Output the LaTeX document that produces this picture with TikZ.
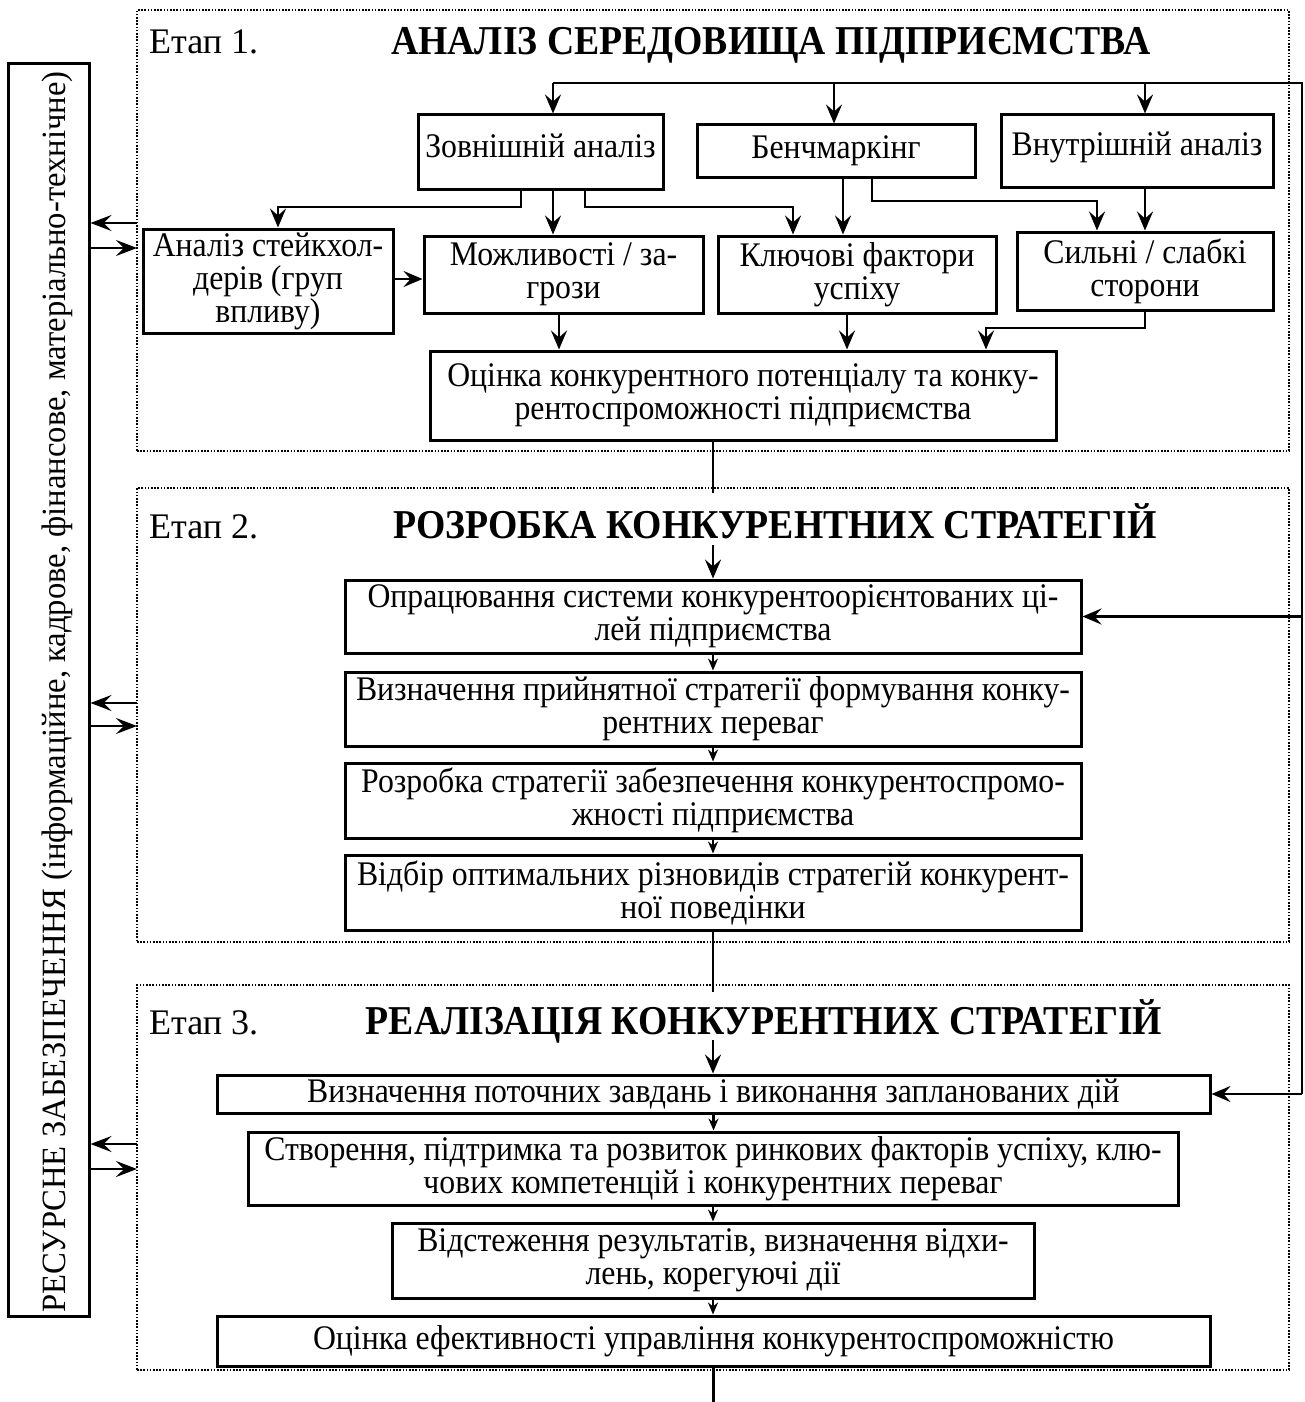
\documentclass[tikz,border=0pt]{standalone}
\usepackage{fontspec}
\usepackage{graphicx}
\setmainfont{Liberation Serif}
\newfontfamily\bxfont[FakeStretch=0.92]{Liberation Serif}
\usetikzlibrary{arrows.meta,calc}
\newcommand\mybox[7][]{\node[box,#1,minimum width={(#5-#3)*1pt},minimum height={(#6-#4)*1pt}] (#2) at ({(#3+#5)/2},{(#4+#6)/2}) {#7};}
\tikzset{
 box/.style={draw, line width=3pt, align=center, inner sep=2pt, font=\bxfont\fontsize{34.5}{33}\selectfont},
 frame/.style={draw, line width=1.6pt, dash pattern=on 1.6pt off 1.6pt},
 conn/.style={line width=2.8pt},
 arr/.style={conn, -{Stealth[length=19pt,width=16pt,inset=7pt]}},
 sarr/.style={conn, -{Stealth[length=12pt,width=10pt,inset=4pt]}},
 tarr/.style={line width=1.8pt, -{Stealth[length=21pt,width=16pt,inset=8pt]}},
 etap/.style={font=\fontsize{36}{40}\selectfont, inner sep=0pt, anchor=base west},
 ttl/.style={font=\bxfont\bfseries\fontsize{41}{44}\selectfont, inner sep=0pt, anchor=base},
}
\begin{document}
\begin{tikzpicture}[x=1pt,y=-1pt]
\useasboundingbox (0,0) rectangle (1305,1402);
% frames
\mybox[frame]{f1}{137}{10}{1289}{451}{}
\mybox[frame]{f2}{137}{488}{1289}{942}{}
\mybox[frame]{f3}{137}{985}{1289}{1370}{}
% resource box
\node[draw, line width=3pt, rotate=90, minimum width=1252pt, minimum height=81pt, inner sep=0pt] (res) at (48.5,690) {};
\node[rotate=90, inner sep=0pt, font=\fontsize{34}{38}\selectfont] (restext) at (57,692) {\resizebox{1241pt}{\height}{РЕСУРСНЕ ЗАБЕЗПЕЧЕННЯ (інформаційне, кадрове, фінансове, матеріально-технічне)}};
% titles
\node[etap] (e1) at (149,54) {Етап 1.};
\node[ttl] (t1) at (771,55) {АНАЛІЗ СЕРЕДОВИЩА ПІДПРИЄМСТВА};
\node[etap] (e2) at (149,538) {Етап 2.};
\node[ttl] (t2) at (775,538) {РОЗРОБКА КОНКУРЕНТНИХ СТРАТЕГІЙ};
\node[etap] (e3) at (149,1034) {Етап 3.};
\node[ttl] (t3) at (764,1034) {РЕАЛІЗАЦІЯ КОНКУРЕНТНИХ СТРАТЕГІЙ};
% stage 1 boxes
\mybox{zov}{418}{115}{663}{189}{\raisebox{6pt}[\height][\depth]{Зовнішній аналіз}}
\mybox{ben}{697}{125}{975}{177}{Бенчмаркінг}
\mybox{vnu}{1001}{115}{1273}{187}{\raisebox{4pt}[\height][\depth]{Внутрішній аналіз}}
\mybox{ana}{143}{229}{393}{333}{Аналіз стейкхол-\\дерів (груп\\впливу)}
\mybox{mozh}{424}{236}{703}{313}{Можливості / за-\\грози}
\mybox{klyuch}{718}{236}{996}{313}{Ключові фактори\\успіху}
\mybox{syl}{1017}{232}{1273}{310}{Сильні / слабкі\\сторони}
\mybox{ocin}{430}{351}{1056}{440}{Оцінка конкурентного потенціалу та конку-\\рентоспроможності підприємства}
% stage 2 boxes
\mybox{opr}{345}{580}{1081}{653}{Опрацювання системи конкурентоорієнтованих ці-\\лей підприємства}
\mybox{vyz}{345}{672}{1081}{746}{Визначення прийнятної стратегії формування конку-\\рентних переваг}
\mybox{rozr}{345}{763}{1081}{838}{Розробка стратегії забезпечення конкурентоспромо-\\жності підприємства}
\mybox{vidb}{345}{855}{1081}{930}{Відбір оптимальних різновидів стратегій конкурент-\\ної поведінки}
% stage 3 boxes
\mybox{potoch}{217}{1075}{1210}{1113}{Визначення поточних завдань і виконання запланованих дій}
\mybox{stv}{248}{1132}{1178}{1205}{Створення, підтримка та розвиток ринкових факторів успіху, клю-\\чових компетенцій і конкурентних переваг}
\mybox{vidst}{392}{1223}{1034}{1298}{Відстеження результатів, визначення відхи-\\лень, корегуючі дії}
\mybox{ocef}{217}{1316}{1210}{1366}{Оцінка ефективності управління конкурентоспроможністю}
% coordinates
\coordinate (tr) at (1302,83);
\coordinate (tl) at (553,83);
\coordinate (t2) at (834,83);
\coordinate (t3) at (1145,83);
\coordinate (mr) at (1302,616.5);
\coordinate (br) at (1302,1094);
\coordinate (b1) at (278,207);
\coordinate (b2) at (793,207);
\coordinate (b3) at (1097,201);
\coordinate (b4) at (986,328);
\coordinate (s2in) at (713,493);
\coordinate (s2a) at (713,545);
\coordinate (s3in) at (713,992);
\coordinate (s3a) at (713,1040);
\coordinate (bot) at (713.5,1402);
% feedback line
\draw[conn] (br) -- (tr) -- (tl);
\draw[arr] (tl) -- (tl |- zov.north);
\draw[arr] (t2) -- (t2 |- ben.north);
\draw[arr] (t3) -- (t3 |- vnu.north);
\draw[arr] (mr) -- (opr.east);
\draw[arr] (br) -- (potoch.east);
% stage 1 connectors
\draw[arr] ([xshift=-19.5pt]zov.south) |- (b1) -- (b1 |- ana.north);
\draw[arr] ([xshift=12.5pt]zov.south) -- ([xshift=12.5pt]zov.south |- mozh.north);
\draw[arr] ([xshift=44.5pt]zov.south) |- (b2) -- (b2 |- klyuch.north);
\draw[arr] ([xshift=7pt]ben.south) -- ([xshift=7pt]ben.south |- klyuch.north);
\draw[arr] ([xshift=36pt]ben.south) |- (b3) -- (b3 |- syl.north);
\draw[arr] ([xshift=8pt]vnu.south) -- ([xshift=8pt]vnu.south |- syl.north);
\draw[arr] ([yshift=2pt]ana.east) -- ([yshift=2pt]ana.east -| mozh.west);
\draw[arr] ([xshift=-4.5pt]mozh.south) -- ([xshift=-4.5pt]mozh.south |- ocin.north);
\draw[arr] ([xshift=-10pt]klyuch.south) -- ([xshift=-10pt]klyuch.south |- ocin.north);
\draw[arr] (syl.south) |- (b4) -- (b4 |- ocin.north);
\draw[conn] (s2in |- ocin.south) -- (s2in);
% stage 2 connectors
\draw[arr] (s2a) -- (opr.north);
\draw[sarr] (opr.south) -- (vyz.north);
\draw[sarr] (vyz.south) -- (rozr.north);
\draw[sarr] (rozr.south) -- (vidb.north);
\draw[conn] (vidb.south) -- (s3in);
% stage 3 connectors
\draw[arr] (s3a) -- (s3a |- potoch.north);
\draw[sarr] (potoch.south) -- (potoch.south |- stv.north);
\draw[sarr] (stv.south) -- (stv.south |- vidst.north);
\draw[sarr] (vidst.south) -- (vidst.south |- ocef.north);
\draw[conn] (ocef.south) -- (bot);
% resource arrows
\coordinate (r1a) at (137,223); \coordinate (r1b) at (137,248);
\coordinate (r2a) at (137,703); \coordinate (r2b) at (137,726);
\coordinate (r3a) at (137,1144); \coordinate (r3b) at (137,1169);
\draw[tarr] (r1a) -- (r1a -| res.south);
\draw[tarr] (r1b -| res.south) -- (r1b);
\draw[tarr] (r2a) -- (r2a -| res.south);
\draw[tarr] (r2b -| res.south) -- (r2b);
\draw[tarr] (r3a) -- (r3a -| res.south);
\draw[tarr] (r3b -| res.south) -- (r3b);
\end{tikzpicture}
\end{document}
